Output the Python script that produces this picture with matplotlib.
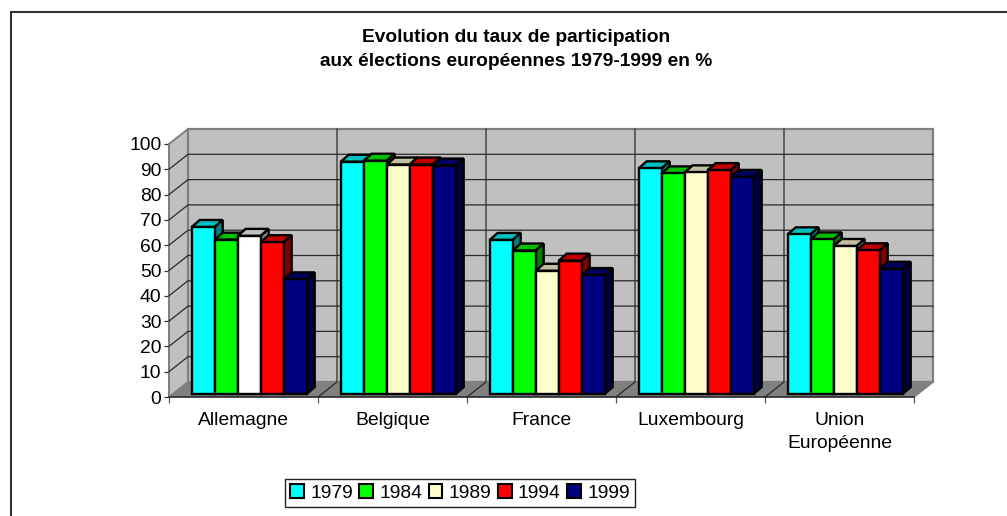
from __future__ import annotations

import matplotlib

matplotlib.use("Agg")
import matplotlib.pyplot as plt
from matplotlib.lines import Line2D
from matplotlib.patches import Patch, Polygon

plt.rcParams["font.family"] = ["Liberation Sans", "DejaVu Sans"]

CATEGORIES = ["Allemagne", "Belgique", "France", "Luxembourg", "Union\nEuropéenne"]
YEARS = ["1979", "1984", "1989", "1994", "1999"]
VALUES_1979 = [66.0, 91.8, 60.9, 89.2, 63.1]
VALUES_1984 = [61.0, 92.2, 56.7, 87.2, 61.1]
VALUES_1989 = [62.5, 90.7, 48.7, 87.6, 58.5]
VALUES_1994 = [60.0, 90.7, 52.7, 88.5, 56.8]
VALUES_1999 = [45.3, 90.3, 47.0, 85.8, 49.5]
SERIES = [VALUES_1979, VALUES_1984, VALUES_1989, VALUES_1994, VALUES_1999]
Y_TICKS = [0, 10, 20, 30, 40, 50, 60, 70, 80, 90, 100]

FRONT = ["#00ffff", "#00ff00", "#ffffcc", "#ff0000", "#000080"]
TOP = ["#00c0c0", "#00c000", "#c0c0a0", "#c00000", "#000060"]
SIDE = ["#008080", "#008000", "#808066", "#800000", "#000040"]

W, H = 1007, 516
LEFT, RIGHT, BOTTOM, TOP_Y = 169, 914, 397, 144
PX_X = (RIGHT - LEFT) / len(CATEGORIES)
PX_Y = (BOTTOM - TOP_Y) / 100
WALL_DX, WALL_DY = 19 / PX_X, 15 / PX_Y
BAR_X0, BAR_W = 22.7 / PX_X, 23 / PX_X
BAR_Y0 = 3 / PX_Y
DEPTH_X, DEPTH_Y = 8 / PX_X, 7 / PX_Y
EDGE = 1.7
FONT_SIZE = 13.9


def _fig_line(fig, xs, ys, **kw) -> None:
    fig.add_artist(Line2D([x / W for x in xs], [1 - y / H for y in ys], transform=fig.transFigure, **kw))


def _draw_walls(ax) -> None:
    n = len(CATEGORIES)
    ymax = Y_TICKS[-1]
    # walls sit outside of the axes box, so no clipping here
    ax.add_patch(Polygon([(0, 0), (WALL_DX, WALL_DY), (WALL_DX, ymax + WALL_DY), (0, ymax)],
                         fc="#c0c0c0", ec="#808080", lw=1.4, clip_on=False, zorder=1))
    ax.add_patch(Polygon([(WALL_DX, WALL_DY), (n + WALL_DX, WALL_DY), (n + WALL_DX, ymax + WALL_DY), (WALL_DX, ymax + WALL_DY)],
                         fc="#c0c0c0", ec="#808080", lw=1.6, clip_on=False, zorder=1))
    ax.add_patch(Polygon([(0, 0), (WALL_DX, WALL_DY), (n + WALL_DX, WALL_DY), (n, 0)],
                         fc="#808080", ec="#808080", lw=0.5, clip_on=False, zorder=2))
    for v in Y_TICKS[1:-1]:
        ax.plot([0, WALL_DX, n + WALL_DX], [v, v + WALL_DY, v + WALL_DY], color="#2a2a2a", lw=0.9, clip_on=False, zorder=3)
    for i in range(1, n):
        ax.plot([i, i + WALL_DX, i + WALL_DX], [0, WALL_DY, ymax + WALL_DY], color="#2a2a2a", lw=0.9, clip_on=False, zorder=3)
    ax.plot([n, n + WALL_DX], [0, WALL_DY], color="#808080", lw=1.2, clip_on=False, zorder=3)


def _draw_bars(ax) -> None:
    z = 4
    for cat in range(len(CATEGORIES)):
        for s, values in enumerate(SERIES):
            v = values[cat]
            x0 = cat + BAR_X0 + s * BAR_W
            x1 = x0 + BAR_W
            y0 = BAR_Y0
            y1 = y0 + v
            # Allemagne 1989 is white in the original, not cream
            white = cat == 0 and s == 2
            top = "#c0c0c0" if white else TOP[s]
            side = "#808080" if white else SIDE[s]
            face = "#ffffff" if white else FRONT[s]
            ax.add_patch(Polygon([(x0, y1), (x0 + DEPTH_X, y1 + DEPTH_Y), (x1 + DEPTH_X, y1 + DEPTH_Y), (x1, y1)],
                                 fc=top, ec="black", lw=EDGE, joinstyle="miter", zorder=z))
            ax.add_patch(Polygon([(x1, y0), (x1 + DEPTH_X, y0 + DEPTH_Y), (x1 + DEPTH_X, y1 + DEPTH_Y), (x1, y1)],
                                 fc=side, ec="black", lw=EDGE, joinstyle="miter", zorder=z))
            ax.bar(x0, v, width=BAR_W, bottom=y0, align="edge", color=face, edgecolor="black", linewidth=EDGE, zorder=z + 1)
            z += 2


def main() -> int:
    fig = plt.figure(figsize=(W / 100, H / 100), dpi=100, facecolor="white")
    ax = fig.add_axes([LEFT / W, 1 - BOTTOM / H, (RIGHT - LEFT) / W, (BOTTOM - TOP_Y) / H])
    ax.set_facecolor("none")
    ax.set_xlim(0, len(CATEGORIES))
    ax.set_ylim(0, 100)

    _draw_walls(ax)
    _draw_bars(ax)

    for name in ("top", "right"):
        ax.spines[name].set_visible(False)
    ax.spines["bottom"].set_color("#222222")
    ax.spines["bottom"].set_linewidth(1.1)
    ax.spines["bottom"].set_zorder(3)
    ax.spines["left"].set_color("#808080")
    ax.spines["left"].set_linewidth(1.1)

    ax.set_yticks(Y_TICKS)
    ax.tick_params(axis="y", labelsize=FONT_SIZE, length=3.5, width=0.9, color="#333333", pad=2)
    ax.set_xticks(range(len(CATEGORIES) + 1))
    ax.set_xticklabels([])
    ax.tick_params(axis="x", which="major", length=4.5, width=0.9, color="#555555")
    ax.set_xticks([i + 0.5 for i in range(len(CATEGORIES))], minor=True)
    ax.set_xticklabels(CATEGORIES, minor=True, fontsize=FONT_SIZE, linespacing=1.42, va="top")
    ax.tick_params(axis="x", which="minor", length=0, pad=11)

    fig.text(516 / W, 1 - 38 / H, "Evolution du taux de participation", ha="center", va="center",
             fontsize=13.8, fontweight="bold", color="black")
    fig.text(516 / W, 1 - 61 / H, "aux élections européennes 1979-1999 en %", ha="center", va="center",
             fontsize=13.8, fontweight="bold", color="black")

    handles = [Patch(facecolor=c, edgecolor="black", linewidth=1.5, label=y) for c, y in zip(FRONT, YEARS)]
    fig.legend(handles=handles, loc="center", bbox_to_anchor=(460 / W, 1 - 493 / H), ncol=5, fontsize=FONT_SIZE,
               frameon=True, fancybox=False, edgecolor="#222222", facecolor="white", framealpha=1,
               handlelength=0.7, handleheight=0.7, handletextpad=0.33, columnspacing=0.34,
               borderpad=0.28, borderaxespad=0)

    # outer chart frame, only left and top edges are in the crop
    _fig_line(fig, [11, 11, W], [H, 12, 12], color="#333333", lw=1.5, solid_joinstyle="miter")

    fig.savefig("out.png", dpi=100, facecolor="white")
    plt.close(fig)
    return 0


if __name__ == "__main__":
    raise SystemExit(main())
